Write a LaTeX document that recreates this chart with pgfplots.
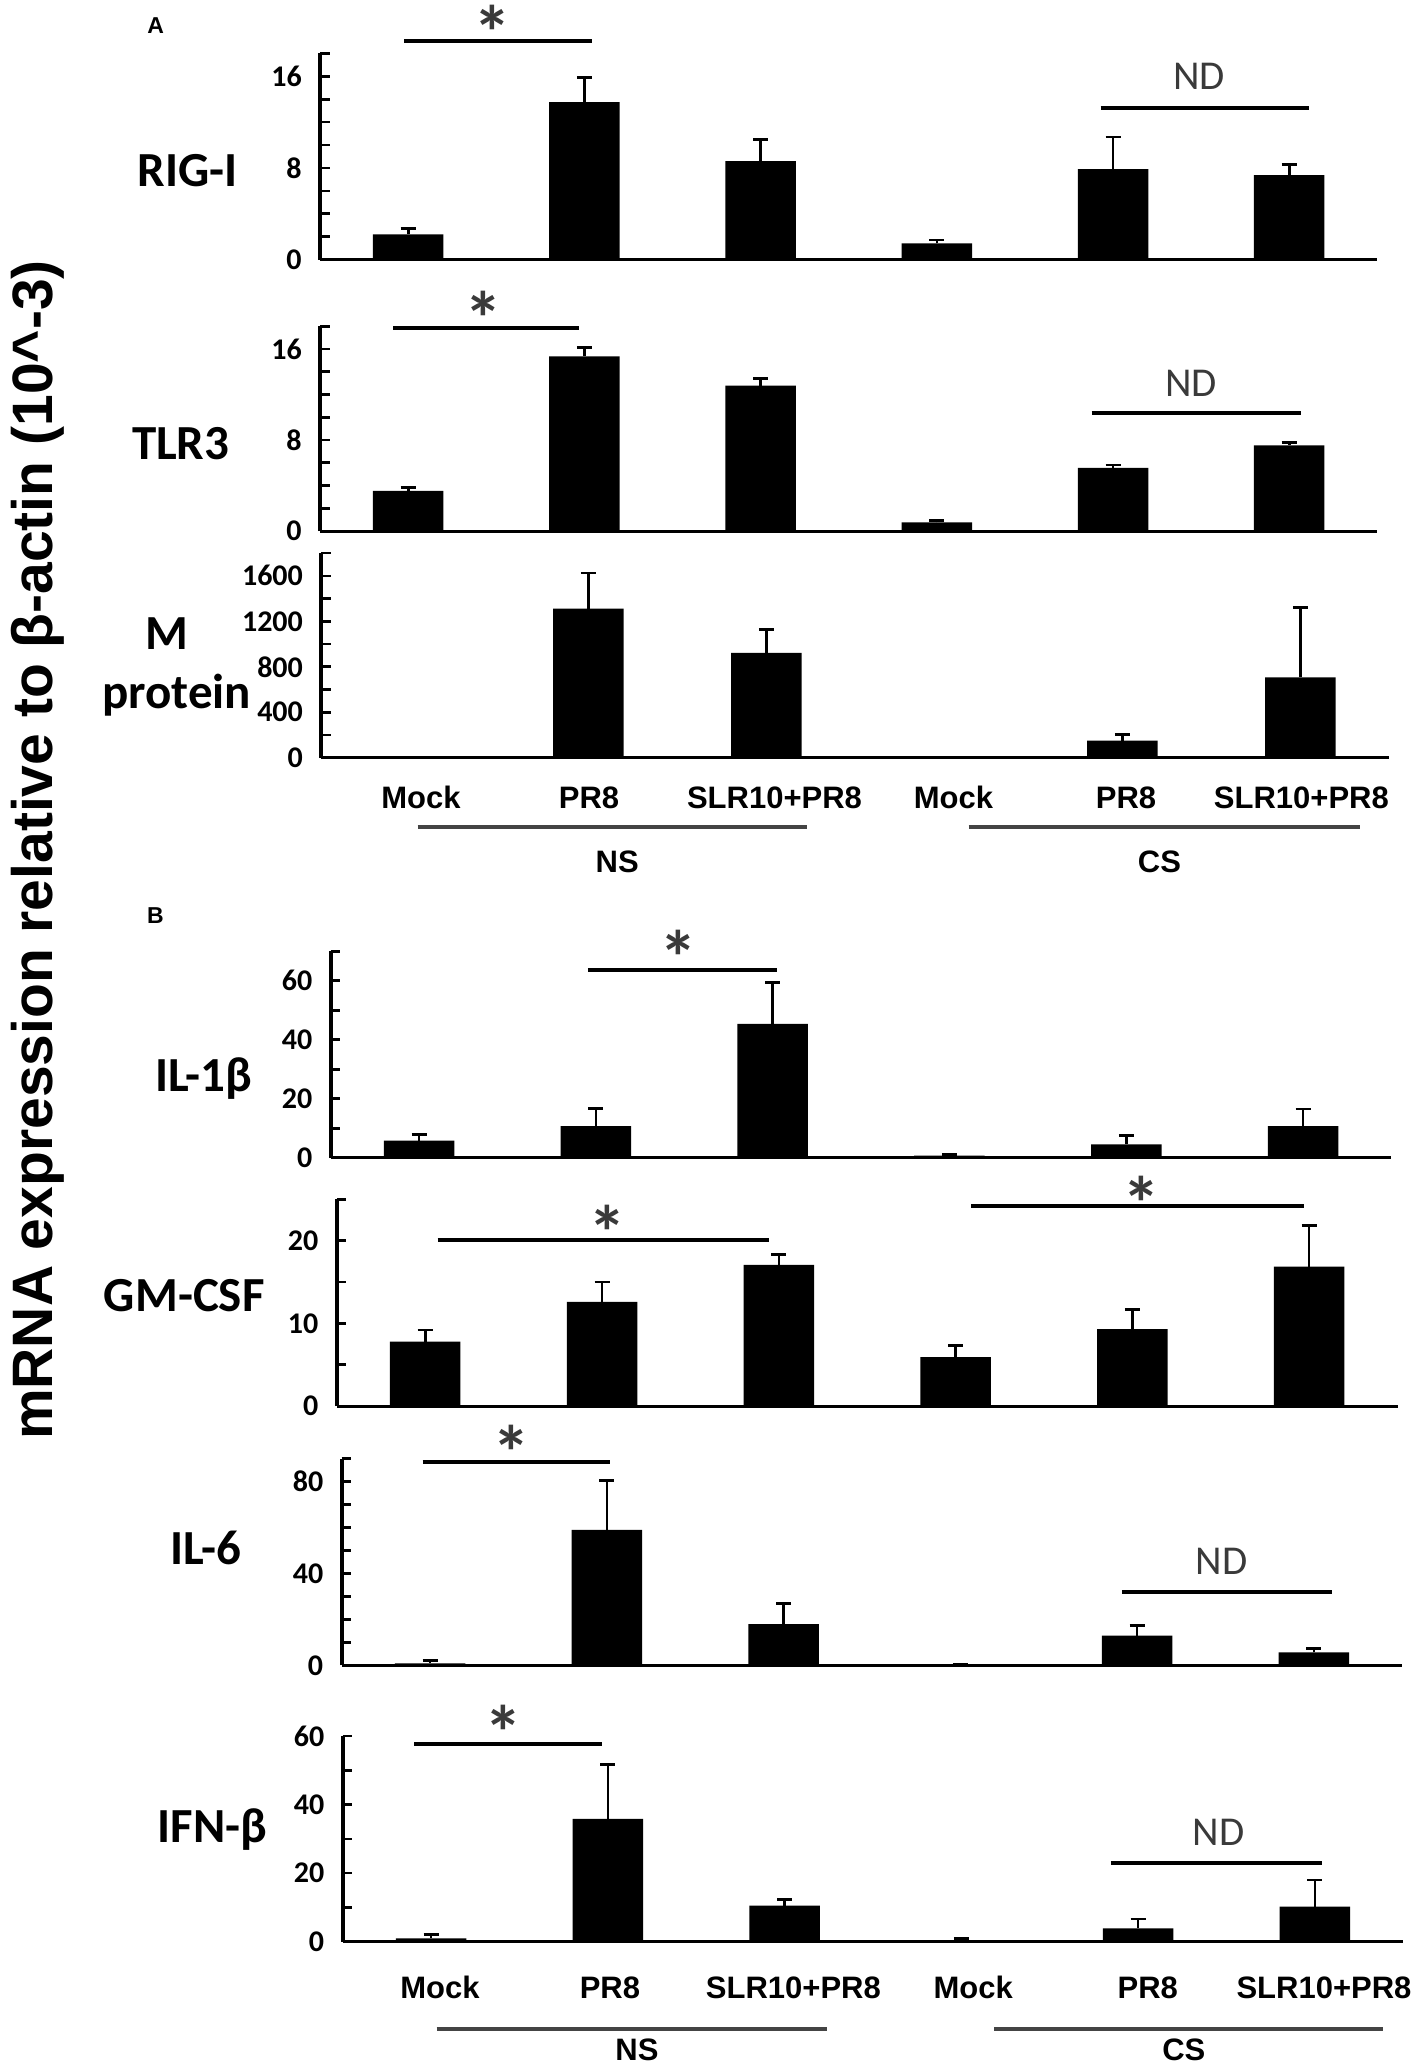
\documentclass[border=0pt]{standalone}
\usepackage{fontspec}
\setmainfont{Liberation Sans}
\newfontfamily\carl{Carlito}
\usepackage{pgfplots}
\usepackage{pgfplotstable}
\pgfplotsset{compat=1.18}
\definecolor{annot}{HTML}{3A3A3A}
\definecolor{grp}{HTML}{444444}

\newcommand{\tickfont}{\carl\bfseries\fontsize{15}{15}\selectfont}
\newcommand{\namefont}{\carl\bfseries\fontsize{24.5}{26}\selectfont}
\newcommand{\xlabfont}{\bfseries\fontsize{15.5}{16}\selectfont}
\newcommand{\grpfont}{\bfseries\fontsize{15.5}{16}\selectfont}
\newcommand{\ndfont}{\carl\fontsize{20.5}{21}\selectfont}
\newcommand{\starfont}{\carl\bfseries\fontsize{38}{38}\selectfont}

% x = group index (0 NS Mock, 1 NS PR8, 2 NS SLR10+PR8, 3 CS Mock, 4 CS PR8, 5 CS SLR10+PR8)
\pgfplotstableread{
x y e
0 2.2 0.5
1 13.74 2.16
2 8.6 1.9
3 1.4 0.3
4 7.9 2.8
5 7.37 0.9
}\rigi
\pgfplotstableread{
x y e
0 3.53 0.31
1 15.34 0.76
2 12.77 0.63
3 0.76 0.14
4 5.55 0.25
5 7.52 0.28
}\tlr
\pgfplotstableread{
x y e
0 0 0
1 1312 313
2 923 203
3 0 0
4 151 50
5 706 616
}\mprot
\pgfplotstableread{
x y e
0 5.76 2.0
1 10.7 6.0
2 45.4 13.9
3 0.7 0.4
4 4.5 2.9
5 10.7 5.8
}\ilb
\pgfplotstableread{
x y e
0 7.78 1.41
1 12.6 2.4
2 17.05 1.25
3 5.9 1.4
4 9.3 2.4
5 16.85 4.95
}\gmcsf
\pgfplotstableread{
x y e
0 0.8 1.2
1 58.96 21.7
2 18.0 9.1
3 0.3 0.2
4 12.9 4.5
5 5.65 1.75
}\ilsix
\pgfplotstableread{
x y e
0 1.0 1.2
1 35.8 15.9
2 10.5 1.9
3 0.5 0.5
4 3.9 2.7
5 10.2 7.8
}\ifnb

\pgfplotsset{
  panel/.style={
    scale only axis,
    axis lines*=left,
    x axis line style={line width=1.5pt,-},
    y axis line style={line width=2pt,-},
    xmin=-0.5, xmax=5.5, ymin=0,
    enlargelimits=false,
    tick align=inside,
    tick style={line width=1.3pt, black},
    major tick length=4.7pt, minor tick length=4.7pt,
    xtick=\empty,
    xtick style={draw=none},
    yticklabel style={font=\tickfont, anchor=east, inner sep=0pt, xshift=-9pt},
    /pgf/number format/assume math mode=true,
    /pgf/number format/1000 sep={},
    clip=false,
  },
  bars/.style={
    ybar, bar width=35.25pt, bar shift=0pt, fill=black, draw=none,
    error bars/y dir=plus, error bars/y explicit,
    error bars/error bar style={line width=1.3pt, black},
    error bars/error mark options={rotate=90, mark size=3.75pt, line width=1.4pt, black},
  },
}

\begin{document}
\begin{tikzpicture}
\useasboundingbox (0pt,0pt) rectangle (708.5pt,-1031.5pt);

% ---------------- Panel A ----------------
\begin{axis}[panel, at={(160.05pt,-129.75pt)}, anchor=south west,
  width=528.6pt, height=103.05pt, ymax=18,
  ytick={0,8,16}, minor ytick={2,4,6,10,12,14,18}]
\addplot[bars] table[x=x,y=y,y error=e]{\rigi};
\end{axis}

\begin{axis}[panel, at={(160.05pt,-265.5pt)}, anchor=south west,
  width=528.6pt, height=102.4pt, ymax=18,
  ytick={0,8,16}, minor ytick={2,4,6,10,12,14,18}]
\addplot[bars] table[x=x,y=y,y error=e]{\tlr};
\end{axis}

\begin{axis}[panel, at={(160.65pt,-378.85pt)}, anchor=south west,
  width=534pt, height=102.3pt, ymax=1800,
  ytick={0,400,800,1200,1600}, minor ytick={200,600,1000,1400,1800},
  xtick={0.060,1.004,2.046,3.051,4.021,5.006},
  xticklabels={Mock,PR8,SLR10+PR8,Mock,PR8,SLR10+PR8},
  xticklabel style={font=\xlabfont, anchor=base, inner sep=0pt, yshift=-25.3pt}]
\addplot[bars] table[x=x,y=y,y error=e]{\mprot};
\end{axis}

% ---------------- Panel B ----------------
\begin{axis}[panel, at={(165.35pt,-578.85pt)}, anchor=south west,
  width=530.4pt, height=103.25pt, ymax=70,
  ytick={0,20,40,60}, minor ytick={10,30,50,70}]
\addplot[bars] table[x=x,y=y,y error=e]{\ilb};
\end{axis}

\begin{axis}[panel, at={(168.4pt,-703pt)}, anchor=south west,
  width=530.4pt, height=103.4pt, ymax=25,
  ytick={0,10,20}, minor ytick={5,15,25}]
\addplot[bars] table[x=x,y=y,y error=e]{\gmcsf};
\end{axis}

\begin{axis}[panel, at={(170.8pt,-832.65pt)}, anchor=south west,
  width=530.4pt, height=103.3pt, ymax=90,
  ytick={0,40,80}, minor ytick={10,20,30,50,60,70,90}]
\addplot[bars] table[x=x,y=y,y error=e]{\ilsix};
\end{axis}

\begin{axis}[panel, at={(171.3pt,-970.85pt)}, anchor=south west,
  width=530.4pt, height=102.9pt, ymax=60,
  ytick={0,20,40,60}, minor ytick={10,30,50},
  xtick={0.051,1.012,2.050,3.067,4.054,5.051},
  xticklabels={Mock,PR8,SLR10+PR8,Mock,PR8,SLR10+PR8},
  xticklabel style={font=\xlabfont, anchor=base, inner sep=0pt, yshift=-28.15pt}]
\addplot[bars] table[x=x,y=y,y error=e]{\ifnb};
\end{axis}

% ---------------- annotations ----------------
% y label
\node[rotate=90, anchor=base, inner sep=0pt, font=\bfseries\fontsize{28.5}{30}\selectfont]
  at (26.5pt,-425pt) {mRNA expression relative to β-actin (10\textasciicircum-3)};

% panel letters
\node[anchor=base, inner sep=0pt, font=\bfseries\fontsize{11.5}{12}\selectfont] at (77.9pt,-16.65pt) {A};
\node[anchor=base, inner sep=0pt, font=\bfseries\fontsize{11.5}{12}\selectfont] at (77.7pt,-461.85pt) {B};

% gene names
\begin{scope}[every node/.style={anchor=base, inner sep=0pt, font=\namefont}]
\node at (93.75pt,-93.35pt) {RIG-I};
\node at (90.35pt,-229.6pt) {TLR3};
\node at (83.35pt,-324.5pt) {M};
\node at (88.35pt,-354pt) {protein};
\node at (101.9pt,-545.7pt) {IL-1β};
\node at (92.15pt,-655.85pt) {GM-CSF};
\node at (102.8pt,-782pt) {IL-6};
\node at (106.2pt,-921pt) {IFN-β};
\end{scope}

% significance lines
\begin{scope}[line width=2pt, black]
\draw (202pt,-20.65pt) -- (296pt,-20.65pt);
\draw (196.5pt,-164.2pt) -- (289.5pt,-164.2pt);
\draw (293.95pt,-485.15pt) -- (388.4pt,-485.15pt);
\draw (218.75pt,-620pt) -- (384.45pt,-620pt);
\draw (485.6pt,-603pt) -- (652pt,-603pt);
\draw (211.25pt,-730.85pt) -- (305pt,-730.85pt);
\draw (207.15pt,-872pt) -- (300.9pt,-872pt);
\draw (550.35pt,-53.75pt) -- (654.25pt,-53.75pt);
\draw (545.8pt,-206.65pt) -- (650.65pt,-206.65pt);
\draw (560.9pt,-796pt) -- (665.9pt,-796pt);
\draw (555.4pt,-931.65pt) -- (660.9pt,-931.65pt);
\end{scope}

% stars (baseline = glyph centre + 22pt)
\begin{scope}[every node/.style={anchor=base, inner sep=0pt, text=annot, font=\starfont}]
\node at (246.25pt,-29.5pt) {*};
\node at (241.75pt,-172.75pt) {*};
\node at (339.3pt,-492pt) {*};
\node at (303.95pt,-629.75pt) {*};
\node at (570.65pt,-615.35pt) {*};
\node at (255.7pt,-739.5pt) {*};
\node at (251.8pt,-879.5pt) {*};
\end{scope}

% ND
\begin{scope}[every node/.style={anchor=base, inner sep=0pt, text=annot, font=\ndfont}]
\node at (599.5pt,-44.5pt) {ND};
\node at (595.5pt,-198pt) {ND};
\node at (610.8pt,-787pt) {ND};
\node at (609.4pt,-922.5pt) {ND};
\end{scope}

% group lines and labels
\begin{scope}[line width=2pt, grp]
\draw (208.75pt,-413.3pt) -- (403.5pt,-413.3pt);
\draw (484.35pt,-413.3pt) -- (680pt,-413.3pt);
\draw (218.25pt,-1014.5pt) -- (413.45pt,-1014.5pt);
\draw (497pt,-1014.5pt) -- (691.3pt,-1014.5pt);
\end{scope}
\begin{scope}[every node/.style={anchor=base, inner sep=0pt, font=\grpfont}]
\node at (308.6pt,-436.3pt) {NS};
\node at (579.7pt,-436.3pt) {CS};
\node at (318.5pt,-1030.3pt) {NS};
\node at (591.9pt,-1030.3pt) {CS};
\end{scope}
\end{tikzpicture}
\end{document}
